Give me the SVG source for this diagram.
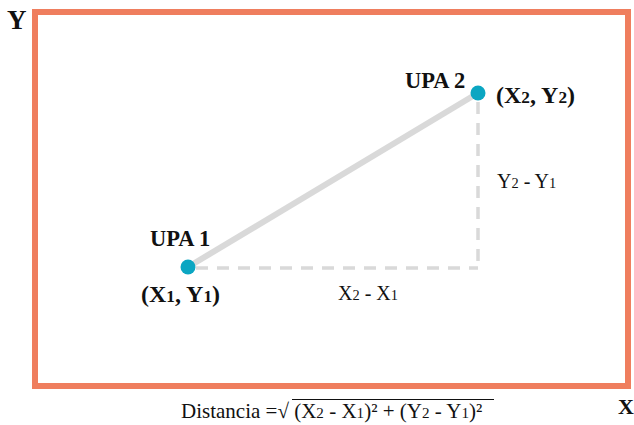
<svg xmlns="http://www.w3.org/2000/svg" width="634" height="425" viewBox="0 0 634 425">
<style>
.b{font-family:"Liberation Serif",serif;font-weight:bold;fill:#111}
.r{font-family:"Liberation Serif",serif;fill:#111}
.s{font-size:0.72em}
.dash{stroke:#d9d9d9;stroke-width:3.5;stroke-dasharray:12 9;fill:none}
.pt{fill:#0ba6c2}
</style>
<rect x="0" y="0" width="634" height="425" fill="#fff"/>
<rect id="frame" x="35" y="12" width="593" height="374" fill="none" stroke="#ef7e5e" stroke-width="6"/>
<text class="b" x="7" y="29" font-size="27">Y</text>
<text class="b" x="618" y="414" font-size="22">X</text>
<g id="connectors">
<line x1="188" y1="267" x2="478" y2="93" stroke="#d9d9d9" stroke-width="6"/>
<line class="dash" x1="196" y1="268" x2="478" y2="268"/>
<line class="dash" x1="478" y1="102" x2="478" y2="268"/>
</g>
<g id="upa1">
<circle class="pt" cx="188" cy="267" r="7.5"/>
<text class="b" x="150" y="246" font-size="22.5">UPA 1</text>
<text class="b" x="141" y="302" font-size="24">(X<tspan class="s">1</tspan>, Y<tspan class="s">1</tspan>)</text>
</g>
<g id="upa2">
<circle class="pt" cx="478" cy="93" r="7.5"/>
<text class="b" x="405" y="88" font-size="22.5">UPA 2</text>
<text class="b" x="496" y="103" font-size="24">(X<tspan class="s">2</tspan>, Y<tspan class="s">2</tspan>)</text>
</g>
<g id="labels">
<text class="r" x="497" y="188" font-size="20">Y<tspan class="s">2</tspan> - Y<tspan class="s">1</tspan></text>
<text class="r" x="338" y="300" font-size="20">X<tspan class="s">2</tspan> - X<tspan class="s">1</tspan></text>
</g>
<g id="formula">
<text class="r" x="181" y="418" font-size="21">Distancia =√ (X<tspan class="s">2</tspan> - X<tspan class="s">1</tspan>)² + (Y<tspan class="s">2</tspan> - Y<tspan class="s">1</tspan>)²</text>
<line x1="292" y1="399.5" x2="494" y2="399.5" stroke="#111" stroke-width="1"/>
</g>
</svg>
